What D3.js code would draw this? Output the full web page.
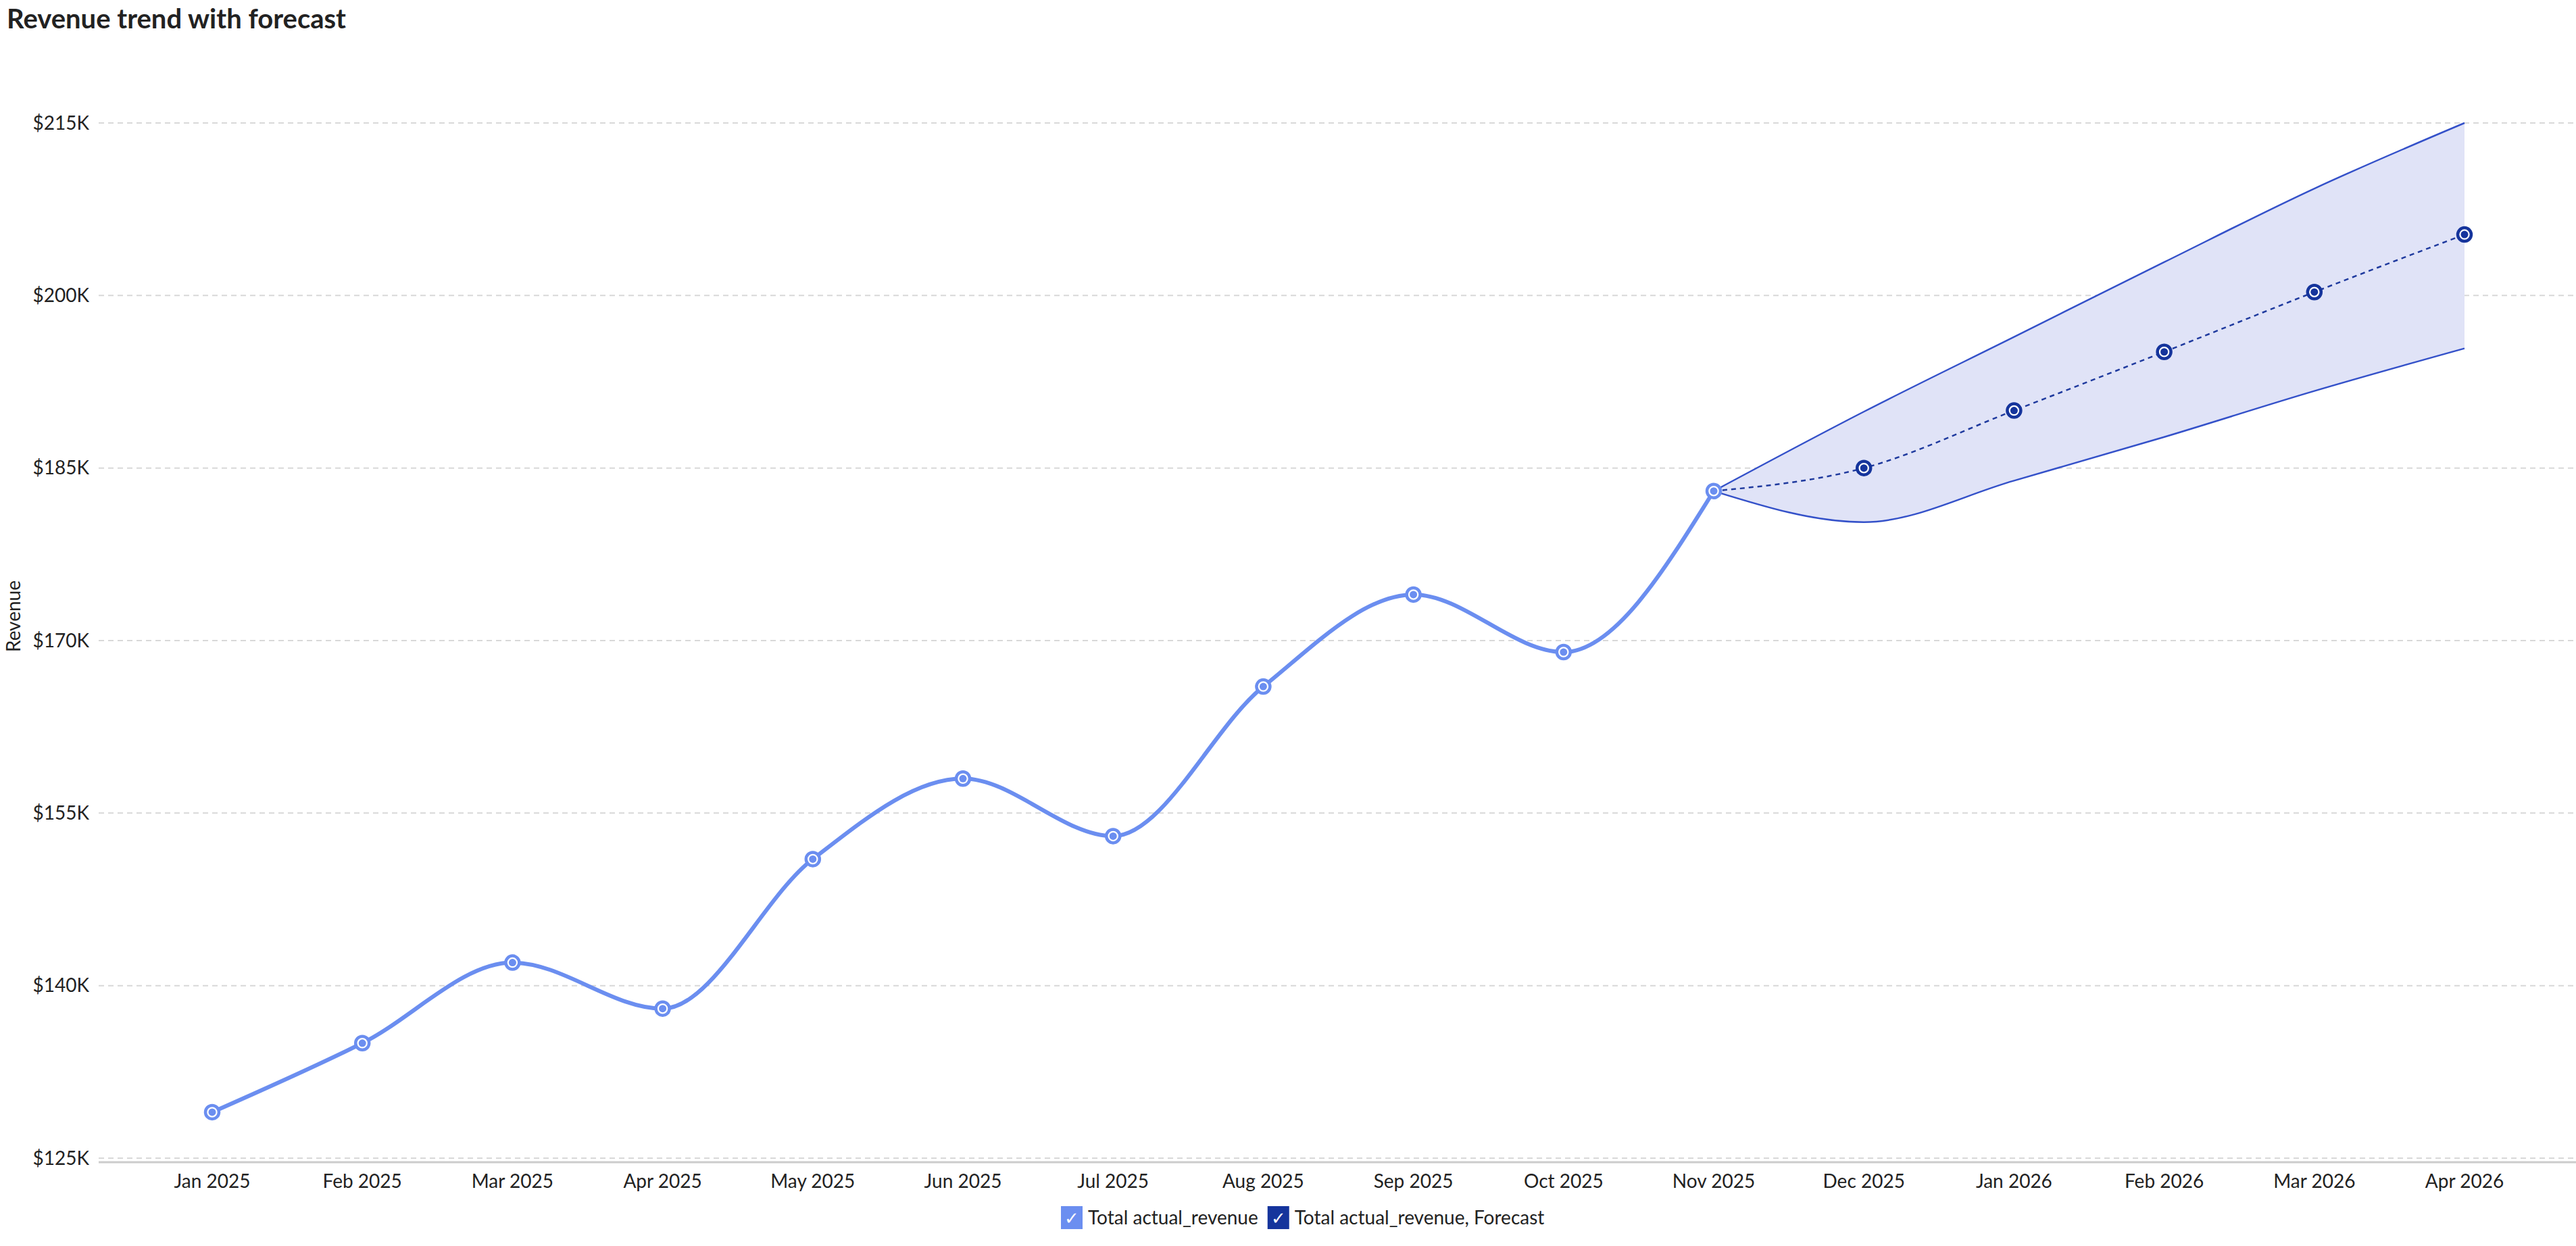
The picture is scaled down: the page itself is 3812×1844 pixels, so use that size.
<!DOCTYPE html>
<html>
<head>
<meta charset="utf-8">
<script src="https://cdn.jsdelivr.net/npm/d3@7"></script>
<style>
  body { margin: 0; background: #fff; font-family: Lato, "Noto Sans", sans-serif; }
</style>
</head>
<body>
<div id="chart"></div>
<script>
// data
const months = ["Jan 2025","Feb 2025","Mar 2025","Apr 2025","May 2025","Jun 2025","Jul 2025","Aug 2025","Sep 2025","Oct 2025","Nov 2025","Dec 2025","Jan 2026","Feb 2026","Mar 2026","Apr 2026"];
const actual = [129, 135, 142, 138, 151, 158, 153, 166, 174, 169, 183];
const forecastMonths = ["Nov 2025","Dec 2025","Jan 2026","Feb 2026","Mar 2026","Apr 2026"];
const forecast = [183, 185, 190, 195.1, 200.3, 205.3];
const upper = [183, 189.9, 196.4, 202.9, 209.3, 215];
const lower = [183, 180.3, 183.9, 187.7, 191.7, 195.4];
const yTicks = [125, 140, 155, 170, 185, 200, 215];

const W = 3812, H = 1844;
const svg = d3.select("#chart").append("svg").attr("width", W).attr("height", H);

// title
svg.append("text").attr("x", 10).attr("y", 42)
  .attr("font-size", 40).attr("font-weight", 700).attr("fill", "#222")
  .text("Revenue trend with forecast");

const x = d3.scalePoint().domain(months).range([314, 3647]);
const y = d3.scaleLinear().domain([125, 215]).range([1714, 182]);

// grid
svg.append("g").selectAll("line").data(yTicks).enter().append("line")
  .attr("x1", 146).attr("x2", 3812)
  .attr("y1", d => y(d)).attr("y2", d => y(d))
  .attr("stroke", "#d8d8d8").attr("stroke-width", 2).attr("stroke-dasharray", "8,6");

// y labels
svg.append("g").selectAll("text").data(yTicks).enter().append("text")
  .attr("x", 132).attr("y", d => y(d)).attr("dy", "0.35em")
  .attr("text-anchor", "end").attr("font-size", 28).attr("fill", "#222")
  .text(d => "$" + d + "K");

svg.append("text").attr("transform", "translate(30,912) rotate(-90)")
  .attr("text-anchor", "middle").attr("font-size", 28).attr("fill", "#222")
  .text("Revenue");

// x axis baseline
svg.append("line").attr("x1", 146).attr("x2", 3812).attr("y1", 1720).attr("y2", 1720)
  .attr("stroke", "#ccc").attr("stroke-width", 3);

svg.append("g").selectAll("text").data(months).enter().append("text")
  .attr("x", d => x(d)).attr("y", 1758).attr("text-anchor", "middle")
  .attr("font-size", 28).attr("fill", "#222").text(d => d);

// forecast band
const area = d3.area()
  .x((d, i) => x(forecastMonths[i]))
  .y0((d, i) => y(lower[i]))
  .y1(d => y(d))
  .curve(d3.curveMonotoneX);
svg.append("path").datum(upper).attr("d", area).attr("fill", "#e0e3f7");

const bandLine = d3.line().x((d, i) => x(forecastMonths[i])).y(d => y(d)).curve(d3.curveMonotoneX);
[upper, lower].forEach(arr => {
  svg.append("path").datum(arr).attr("d", bandLine)
    .attr("fill", "none").attr("stroke", "#3451c9").attr("stroke-width", 2.5);
});

// forecast line
svg.append("path").datum(forecast).attr("d", bandLine)
  .attr("fill", "none").attr("stroke", "#1f3a9e").attr("stroke-width", 2.5)
  .attr("stroke-dasharray", "7,6");

// actual line
const line = d3.line().x((d, i) => x(months[i])).y(d => y(d)).curve(d3.curveMonotoneX);
svg.append("path").datum(actual).attr("d", line)
  .attr("fill", "none").attr("stroke", "#6b8ef0").attr("stroke-width", 6);

// markers
function markers(data, keys, col, skipFirst) {
  const g = svg.append("g").selectAll("g")
    .data(data.map((v, i) => ({ k: keys[i], v })).filter((d, i) => !(skipFirst && i === 0)))
    .enter().append("g")
    .attr("transform", d => `translate(${x(d.k)},${y(d.v)})`);
  g.append("circle").attr("r", 10).attr("fill", "#fff").attr("stroke", col).attr("stroke-width", 4.5);
  g.append("circle").attr("r", 5.5).attr("fill", col);
}
markers(actual, months, "#6b8ef0", false);
markers(forecast, forecastMonths, "#15349c", true);

// legend
const legend = [
  { label: "Total actual_revenue", col: "#6b8ef0" },
  { label: "Total actual_revenue, Forecast", col: "#15349c" }
];
let lx = 1570;
legend.forEach(l => {
  const g = svg.append("g").attr("transform", `translate(${lx},1785)`);
  g.append("rect").attr("width", 32).attr("height", 34).attr("fill", l.col);
  g.append("text").attr("x", 16).attr("y", 27).attr("text-anchor", "middle")
    .attr("font-size", 26).attr("fill", "#fff").text("✓");
  const t = g.append("text").attr("x", 40).attr("y", 27).attr("font-size", 28).attr("fill", "#222").text(l.label);
  lx += 40 + t.node().getComputedTextLength() + 14;
});
</script>
</body>
</html>
